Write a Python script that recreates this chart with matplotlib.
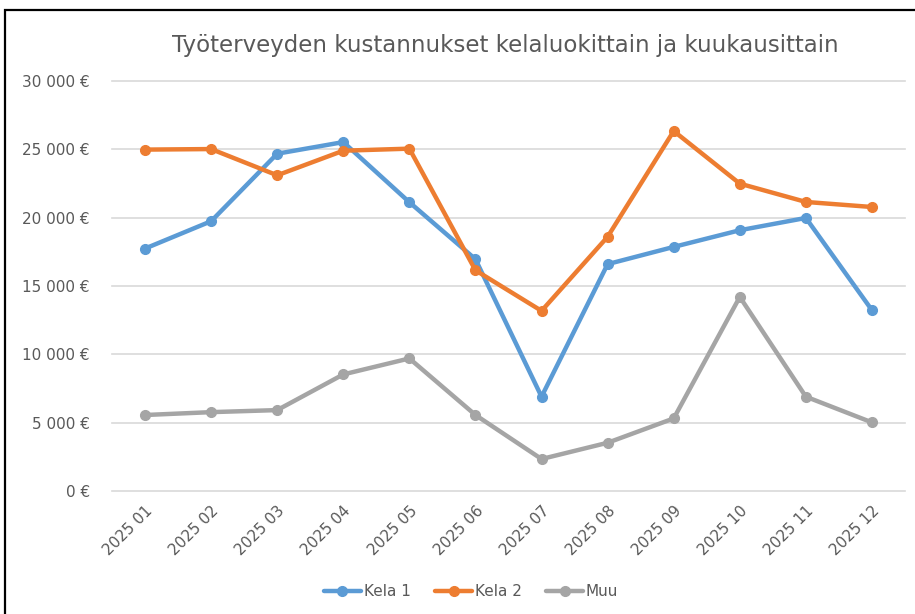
import matplotlib.pyplot as plt
from matplotlib.patches import Rectangle
from matplotlib.ticker import FuncFormatter

plt.rcParams["font.family"] = ["DejaVu Sans"]

months = ["2025 01", "2025 02", "2025 03", "2025 04", "2025 05", "2025 06",
          "2025 07", "2025 08", "2025 09", "2025 10", "2025 11", "2025 12"]
kela1 = [17740, 19740, 24680, 25530, 21130, 16960, 6900, 16600, 17860, 19080, 19980, 13230]
kela2 = [24980, 25020, 23100, 24900, 25050, 16150, 13180, 18600, 26340, 22490, 21150, 20780]
muu = [5560, 5770, 5920, 8530, 9700, 5560, 2340, 3530, 5310, 14200, 6900, 5020]

series = [("Kela 1", kela1, "#5B9BD5"),
          ("Kela 2", kela2, "#ED7D31"),
          ("Muu", muu, "#A5A5A5")]

text_col = "#595959"

fig = plt.figure(figsize=(9.15, 6.14), dpi=100)
ax = fig.add_axes([112 / 915, 1 - 491 / 614, (905 - 112) / 915, (491 - 81) / 614])

x = range(len(months))
for name, vals, col in series:
    ax.plot(x, vals, color=col, linewidth=3.2, marker="o", markersize=7,
            label=name, solid_capstyle="round", zorder=3)

ax.set_xlim(-0.5, len(months) - 0.5)
ax.set_ylim(0, 30000)
ax.set_yticks(range(0, 30001, 5000))
ax.yaxis.set_major_formatter(FuncFormatter(lambda v, p: f"{int(v):,} €".replace(",", " ")))
ax.set_xticks(list(x))
ax.set_xticklabels(months, rotation=45, ha="right", rotation_mode="anchor")

ax.grid(axis="y", color="#D9D9D9", linewidth=1.2)
ax.set_axisbelow(True)
for gl in ax.get_ygridlines():
    gl.set_clip_on(False)  # keep the 0 and 30 000 lines whole
for s in ax.spines.values():
    s.set_visible(False)
ax.tick_params(axis="both", length=0, labelsize=11, colors=text_col)
ax.tick_params(axis="y", pad=16)
ax.tick_params(axis="x", pad=9)

fig.text(0.552, 0.926, "Työterveyden kustannukset kelaluokittain ja kuukausittain",
         ha="center", va="center", fontsize=16.5, color=text_col)

fig.legend(loc="center", bbox_to_anchor=(0.515, 0.036), ncol=3, frameon=False,
           fontsize=11, labelcolor=text_col, handlelength=2.4,
           handletextpad=0.2, columnspacing=1.6)

# border of the chart area
fig.patches.append(Rectangle((5 / 915, -0.1), 1.2, 1.1 - 10 / 614,
                             transform=fig.transFigure, fill=False,
                             edgecolor="black", linewidth=1.6))

plt.savefig("out.png", dpi=100)
plt.close()
